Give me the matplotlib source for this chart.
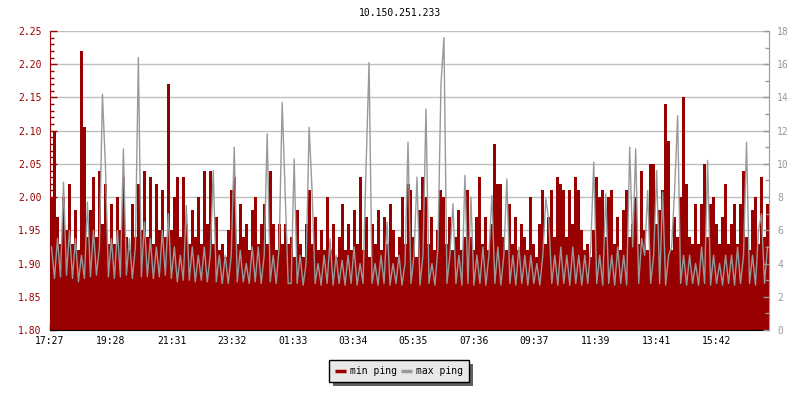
import matplotlib
matplotlib.use("Agg")
import matplotlib.pyplot as plt
from matplotlib.ticker import MultipleLocator, FormatStrFormatter, FixedLocator
from matplotlib.lines import Line2D
from matplotlib.patches import Rectangle
import numpy as np

title = "10.150.251.233"
tick_labels = ["17:27", "19:28", "21:31", "23:32", "01:33", "03:34",
               "05:35", "07:36", "09:37", "11:39", "13:41", "15:42"]
span_minutes = 1440

# min ping (left axis, ms), one value per 6-minute step
min_ping = [
    2.00, 2.10, 1.97, 1.93, 2.00, 1.95, 2.02, 1.93, 1.98, 1.92,
    2.22, 2.105, 1.94, 1.98, 2.03, 1.94, 2.04, 1.96, 2.02, 1.93,
    1.99, 1.93, 2.00, 1.95, 2.03, 1.94, 1.92, 1.99, 1.94, 2.02,
    1.95, 2.04, 1.94, 2.03, 1.93, 2.02, 1.95, 2.01, 1.94, 2.17,
    1.95, 2.00, 2.03, 1.94, 2.03, 1.96, 1.93, 1.98, 1.94, 2.00,
    1.93, 2.04, 1.96, 2.04, 1.93, 1.97, 1.92, 1.93, 1.91, 1.95,
    2.01, 2.03, 1.93, 1.99, 1.94, 1.96, 1.92, 1.98, 2.00, 1.93,
    1.96, 1.99, 1.93, 2.04, 1.96, 1.92, 1.96, 1.93, 1.96, 1.93,
    1.94, 1.91, 1.98, 1.93, 1.91, 1.96, 2.01, 1.93, 1.97, 1.92,
    1.95, 1.92, 2.00, 1.92, 1.96, 1.91, 1.94, 1.99, 1.92, 1.96,
    1.92, 1.98, 1.93, 2.03, 1.92, 1.97, 1.91, 1.96, 1.93, 1.98,
    1.92, 1.97, 1.93, 1.99, 1.95, 1.91, 1.94, 2.00, 1.93, 2.02,
    2.01, 1.94, 1.91, 1.98, 2.03, 2.00, 1.93, 1.97, 1.92, 1.95,
    2.01, 2.00, 1.93, 1.97, 1.92, 1.94, 1.98, 1.92, 1.94, 2.01,
    1.94, 1.92, 1.97, 2.03, 1.93, 1.97, 1.92, 1.96, 2.08, 2.02,
    2.02, 1.94, 1.92, 1.99, 1.93, 1.97, 1.92, 1.96, 1.94, 1.92,
    2.00, 1.93, 1.91, 1.96, 2.01, 1.93, 1.97, 2.01, 1.94, 2.03,
    2.02, 2.01, 1.94, 2.01, 1.96, 2.03, 2.01, 1.95, 1.92, 1.93,
    1.91, 1.95, 2.03, 2.00, 2.01, 1.94, 2.00, 2.01, 1.93, 1.97,
    1.92, 1.98, 2.01, 1.94, 1.96, 2.00, 1.93, 2.04, 1.95, 1.92,
    2.05, 2.05, 1.96, 1.98, 2.01, 2.14, 2.085, 1.92, 1.97, 1.94,
    2.00, 2.15, 2.02, 1.94, 1.93, 1.99, 1.93, 1.99, 2.05, 1.94,
    1.99, 2.00, 1.96, 1.93, 1.97, 2.02, 1.93, 1.96, 1.99, 1.93,
    1.99, 2.04, 1.94, 1.92, 1.98, 2.00, 1.93, 2.03, 1.94, 1.99,
]

# max ping (right axis, ms)
max_ping = [
    5.0, 3.1, 5.5, 3.2, 8.9, 3.3, 6.0, 3.1, 5.5, 2.9,
    4.5, 3.1, 7.7, 3.2, 6.0, 3.3, 5.0, 14.2, 9.9, 3.2,
    5.5, 3.1, 6.0, 3.2, 10.9, 3.3, 5.5, 3.1, 5.0, 16.4,
    3.2, 6.5, 3.2, 5.5, 3.1, 5.0, 3.2, 6.0, 3.3, 7.0,
    3.1, 5.0, 2.9, 4.5, 3.0, 7.5, 3.0, 5.0, 2.9, 4.5,
    3.0, 5.0, 2.9, 4.5, 9.6, 2.9, 4.5, 2.8, 4.5, 2.8,
    4.5, 11.0, 2.9, 4.8, 2.9, 4.0, 2.8, 5.0, 2.9, 5.0,
    2.8, 4.5, 11.8, 2.9, 4.5, 2.8, 5.0, 13.7, 8.2, 2.8,
    2.8, 10.3, 2.8, 4.5, 2.7, 4.0, 12.2, 8.3, 2.8, 4.0,
    2.7, 4.5, 2.8, 5.5, 2.7, 4.5, 2.8, 4.2, 2.7, 4.5,
    2.8, 5.0, 2.7, 4.0, 2.8, 9.8, 16.1, 2.8, 4.0, 2.7,
    4.5, 2.8, 6.5, 2.7, 4.0, 2.8, 4.5, 2.7, 4.0, 11.3,
    2.8, 4.5, 9.2, 2.7, 4.5, 13.3, 2.8, 4.0, 2.7, 5.0,
    14.8, 17.6, 2.8, 4.5, 7.6, 2.8, 4.5, 2.7, 9.3, 2.8,
    8.0, 2.7, 4.5, 2.8, 5.0, 2.7, 4.5, 8.1, 2.8, 5.0,
    2.7, 4.5, 9.1, 2.8, 4.5, 2.7, 5.0, 2.8, 4.5, 2.7,
    4.5, 2.8, 4.0, 2.7, 4.5, 7.9, 6.6, 2.8, 4.5, 2.7,
    5.0, 2.8, 4.5, 2.7, 5.0, 2.8, 4.5, 2.7, 4.5, 2.8,
    5.0, 10.1, 2.8, 4.5, 2.7, 8.2, 2.8, 4.5, 2.7, 5.0,
    2.8, 4.5, 2.7, 11.0, 5.0, 10.9, 2.8, 5.5, 4.5, 8.4,
    2.8, 4.5, 9.6, 2.8, 8.3, 2.7, 4.5, 5.0, 8.4, 12.9,
    2.8, 4.5, 2.7, 4.5, 2.8, 4.0, 2.7, 5.0, 2.8, 10.2,
    2.7, 4.5, 2.8, 4.0, 2.7, 4.5, 2.8, 4.5, 2.7, 5.0,
    2.8, 4.5, 11.3, 2.8, 4.5, 2.7, 6.0, 7.0, 2.8, 5.0,
]

RED = "#990000"
GRAY = "#999999"
FONT = "DejaVu Sans Mono"
FS = 7

plt.rcParams["font.family"] = FONT
plt.rcParams["font.size"] = FS

fig = plt.figure(figsize=(8, 4), dpi=100)
ax = fig.add_axes([50 / 800, 70 / 400, 719 / 800, 299 / 400])
ax2 = ax.twinx()

n = len(min_ping)
edges = np.linspace(0, span_minutes, n + 1)
centers = (edges[:-1] + edges[1:]) / 2

ax.stairs(min_ping, edges, baseline=1.80, fill=True, color=RED, lw=0)
ax2.plot(centers, max_ping, color=GRAY, lw=1.0)

ax.set_xlim(0, span_minutes)
ax.set_ylim(1.80, 2.25)
ax2.set_ylim(0, 18)

def to_min(s):
    h, m = map(int, s.split(":"))
    return h * 60 + m
t0 = to_min(tick_labels[0])
tick_pos = [((to_min(s) - t0) % 1440) for s in tick_labels]
ax.xaxis.set_major_locator(FixedLocator(tick_pos))
ax.set_xticklabels(tick_labels)

ax.yaxis.set_major_locator(MultipleLocator(0.05))
ax.yaxis.set_minor_locator(MultipleLocator(0.01))
ax.yaxis.set_major_formatter(FormatStrFormatter("%.2f"))
ax2.yaxis.set_major_locator(MultipleLocator(2))
ax2.yaxis.set_minor_locator(MultipleLocator(1))

ax.set_axisbelow(True)
ax.grid(axis="y", which="major", color="#c0c0c0", lw=1.0)

ax.tick_params(axis="x", direction="in", length=5, width=1, colors="black",
               labelsize=FS, pad=4)
ax.tick_params(axis="y", which="major", direction="in", length=5, width=1,
               colors=RED, labelsize=FS, pad=6)
ax.tick_params(axis="y", which="minor", direction="in", length=3, width=1,
               colors=RED)
ax2.tick_params(axis="y", which="major", direction="in", length=4, width=1,
                colors=GRAY, labelsize=FS, pad=6)
ax2.tick_params(axis="y", which="minor", direction="in", length=3, width=1,
                colors=GRAY)

for a in (ax, ax2):
    a.spines["top"].set_visible(False)
ax.spines["right"].set_visible(False)
ax.spines["left"].set_color(RED)
ax.spines["bottom"].set_color("black")
ax2.spines["left"].set_visible(False)
ax2.spines["bottom"].set_visible(False)
ax2.spines["right"].set_color(GRAY)

fig.text(0.5, 1 - 13 / 400, title, ha="center", va="center", fontsize=FS,
         color="black")

handles = [Line2D([0, 1], [0, 0], color=RED, lw=2.5, solid_capstyle="butt"),
           Line2D([0, 1], [0, 0], color=GRAY, lw=2.5, solid_capstyle="butt")]
leg = fig.legend(handles, ["min ping", "max ping"], loc="center",
                 bbox_to_anchor=(399 / 800, 1 - 371 / 400), ncol=2,
                 frameon=True, fancybox=False, fontsize=FS,
                 handlelength=1.1, handletextpad=0.4, columnspacing=0.5,
                 borderpad=0.6, borderaxespad=0, shadow=False)
frame = leg.get_frame()
frame.set_facecolor("#e8e8e8")
frame.set_edgecolor("black")
frame.set_linewidth(1.0)
frame.set_alpha(1)
leg.set_zorder(5)

fig.canvas.draw()
bb = leg.get_window_extent().transformed(fig.transFigure.inverted())
shadow = Rectangle((bb.x0 + 4 / 800, bb.y0 - 4 / 400), bb.width, bb.height,
                   transform=fig.transFigure, facecolor="#606060",
                   edgecolor="none", zorder=4)
fig.add_artist(shadow)

fig.savefig("out.png", dpi=100)
